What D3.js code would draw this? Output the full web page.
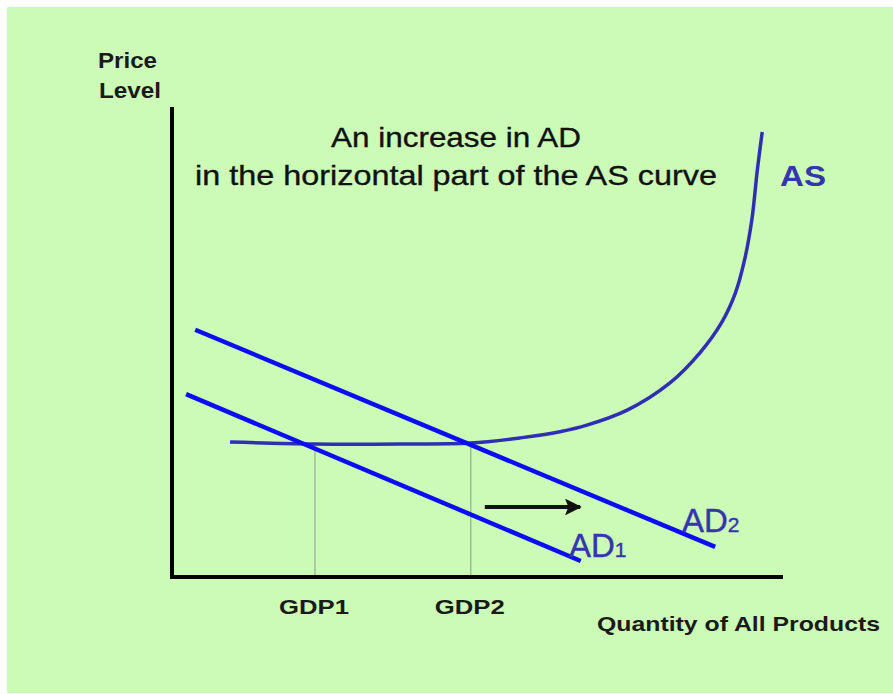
<!DOCTYPE html>
<html>
<head>
<meta charset="utf-8">
<script src="https://cdn.jsdelivr.net/npm/d3@7"></script>
<style>
  html, body { margin: 0; padding: 0; background: #fff; }
  svg { display: block; font-family: "Liberation Sans", Arial, sans-serif; }
</style>
</head>
<body>
<svg id="chart" width="893" height="694"></svg>
<script>
// curves in chart units (0..100 on both axes)
var asCurve = [
    [9.5, 28.7], [23.4, 28.3], [37.3, 28.3], [48.8, 28.5], [57.0, 29.6],
    [63.5, 30.9], [67.9, 32.3], [74.5, 35.5], [81.5, 41.3], [86.4, 47.7],
    [89.9, 54.0], [92.2, 60.4], [93.7, 67.4], [94.9, 76.0], [95.8, 86.6],
    [96.6, 94.7]
];
var ad1 = [[2.3, 38.9], [66.9, 3.4]];
var ad2 = [[3.8, 52.6], [88.9, 6.4]];
var gdpMarks = [
    { name: 'GDP1', x: 23.4, y: 28.3 },
    { name: 'GDP2', x: 48.9, y: 28.5 }
];
var shiftArrow = [[51.2, 14.9], [66.8, 14.9]];
var titleLines = ['An increase in AD', 'in the horizontal part of the AS curve'];
var titleWidths = [250, 522];

var svg = d3.select('#chart');

svg.append('rect')
    .attr('x', 7).attr('y', 7)
    .attr('width', 886).attr('height', 686)
    .attr('fill', '#cbfbb7');

var x = d3.scaleLinear().domain([0, 100]).range([172, 783]),
    y = d3.scaleLinear().domain([0, 100]).range([577, 107]);

var line = d3.line()
    .x(function(d){ return x(d[0]); })
    .y(function(d){ return y(d[1]); });

var defs = svg.append('defs');
defs.append('marker')
    .attr('id', 'head')
    .attr('viewBox', '0 0 10 10')
    .attr('refX', 9).attr('refY', 5)
    .attr('markerWidth', 4.6).attr('markerHeight', 4.2)
    .attr('orient', 'auto')
    .attr('markerUnits', 'strokeWidth')
  .append('path')
    .attr('d', 'M0,0 L10,5 L0,10 L2,5 Z')
    .attr('fill', '#111');

// guide lines down to the axis
svg.selectAll('.guide')
    .data(gdpMarks)
  .enter().append('line')
    .attr('class', 'guide')
    .attr('x1', function(d){ return x(d.x); })
    .attr('x2', function(d){ return x(d.x); })
    .attr('y1', function(d){ return y(d.y); })
    .attr('y2', y(0))
    .attr('stroke', '#9aa89a')
    .attr('stroke-width', 1.2);

// axes
svg.append('path')
    .attr('d', 'M' + x(0) + ',' + y(100) + 'V' + y(0) + 'H' + x(100))
    .attr('fill', 'none')
    .attr('stroke', '#000')
    .attr('stroke-width', 4);

svg.append('path')
    .attr('d', line.curve(d3.curveCatmullRom.alpha(0.5))(asCurve))
    .attr('fill', 'none')
    .attr('stroke', '#2f2fb3')
    .attr('stroke-width', 3.5);

line.curve(d3.curveLinear);
[ad1, ad2].forEach(function(ad){
    svg.append('path')
        .attr('d', line(ad))
        .attr('fill', 'none')
        .attr('stroke', '#0c0cf5')
        .attr('stroke-width', 4.5);
});

svg.append('path')
    .attr('d', line(shiftArrow))
    .attr('stroke', '#111')
    .attr('stroke-width', 4)
    .attr('marker-end', 'url(#head)');

// texts
function label(px, py, txt, size, width, opts){
    opts = opts || {};
    return svg.append('text')
        .attr('x', px).attr('y', py)
        .attr('font-size', size)
        .attr('font-weight', opts.bold ? 'bold' : null)
        .attr('text-anchor', opts.anchor || null)
        .attr('fill', opts.fill || '#1a1a1a')
        .attr('stroke', opts.fill || '#1a1a1a')
        .attr('stroke-width', opts.bold ? 0 : 0.35)
        .attr('textLength', width)
        .attr('lengthAdjust', 'spacingAndGlyphs')
        .text(txt);
}

label(98, 68, 'Price', 22, 59, { bold: true });
label(99, 98, 'Level', 22, 62, { bold: true });

titleLines.forEach(function(t, i){
    label(456, 147 + i * 38, t, 28, titleWidths[i], { anchor: 'middle', fill: '#111' });
});

label(780, 186, 'AS', 29, 46, { bold: true, fill: '#3535ad' });

function adLabel(px, py, sub){
    var t = svg.append('text')
        .attr('x', px).attr('y', py)
        .attr('font-size', 33).attr('fill', '#3535ad')
        .attr('stroke', '#3535ad').attr('stroke-width', 0.4);
    t.append('tspan').text('AD');
    t.append('tspan').attr('font-size', 21).text(sub);
}
adLabel(569, 557, '1');
adLabel(682, 532, '2');

gdpMarks.forEach(function(d){
    label(x(d.x) - 1, 614, d.name, 21, 70, { bold: true, anchor: 'middle' });
});

label(597, 631, 'Quantity of All Products', 21, 283, { bold: true });
</script>
</body>
</html>
